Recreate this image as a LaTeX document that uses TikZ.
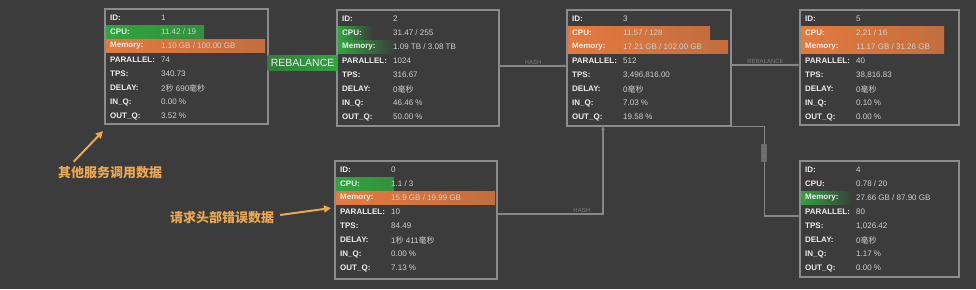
\documentclass[tikz,border=0pt]{standalone}
\usepackage{fontspec}
\setmainfont{Liberation Sans}
\newfontfamily\cjk{Noto Sans CJK SC}
\usetikzlibrary{calc,arrows.meta}
\definecolor{bg}{RGB}{60,60,60}
\definecolor{frame}{RGB}{140,140,140}
\definecolor{lbl}{RGB}{238,238,238}
\definecolor{val}{RGB}{208,208,208}
\definecolor{okgreen}{RGB}{48,165,62}
\definecolor{hot}{RGB}{228,122,62}
\definecolor{note}{RGB}{236,168,80}
\definecolor{wire}{RGB}{135,135,135}
\definecolor{tinytxt}{RGB}{125,125,125}
\newcommand\statrow[4]{%
  \node[lblstyle] (#1l#2) at ($(#1.north west)+(5,{9+14*(#2-1)})$) {#3};
  \node[valstyle] (#1v#2) at ($(#1.north west)+(56,{9+14*(#2-1)})$) {#4};}
\newcommand\hotbar[4]{% box,row,width,colour
  \fill[left color=#4, right color=#4!80!bg]
    ($(#1.north west)+(1.2,{9+14*(#2-1)-6.8})$) rectangle
    ($(#1.north west)+({1.2+#3},{9+14*(#2-1)+6.8})$);}
\newcommand\glowbar[4]{% box,row,width,colour
  \fill[left color=#4, right color=bg]
    ($(#1.north west)+(1.2,{9+14*(#2-1)-6.8})$) rectangle
    ($(#1.north west)+({1.2+#3},{9+14*(#2-1)+6.8})$);}
\newcommand\fillrows[9]{%
  \statrow{#1}{1}{ID:}{#2}\statrow{#1}{2}{CPU:}{#3}\statrow{#1}{3}{Memory:}{#4}%
  \statrow{#1}{4}{PARALLEL:}{#5}\statrow{#1}{5}{TPS:}{#6}\statrow{#1}{6}{DELAY:}{#7}%
  \statrow{#1}{7}{IN\_Q:}{#8}\statrow{#1}{8}{OUT\_Q:}{#9}}
\begin{document}
\begin{tikzpicture}[x=1pt,y=-1pt,
  statbox/.style={draw=frame, line width=1.1pt, anchor=north west, inner sep=0pt,
                  minimum width=161pt, minimum height=115pt},
  lblstyle/.style={anchor=west, inner sep=0pt, text=lbl, font=\bfseries\fontsize{8}{9}\selectfont},
  valstyle/.style={anchor=west, inner sep=0pt, text=val, font=\fontsize{8}{9}\selectfont},
  wire/.style={draw=wire, line width=1.1pt},
  tip/.style={-{Latex[length=3.5pt,width=3.5pt]}},
  tinylbl/.style={text=tinytxt, font=\fontsize{6}{7}\selectfont, inner sep=1pt},
  rebal/.style={left color=okgreen!60!bg, right color=okgreen, text=lbl,
                font=\fontsize{10.5}{12}\selectfont, inner sep=0pt,
                minimum width=70pt, minimum height=15pt},
  notetxt/.style={text=note, font=\cjk\bfseries\fontsize{13}{15}\selectfont, inner sep=1pt},
  notearrow/.style={draw=note, line width=2pt, -{Triangle[length=7pt,width=7pt]}}
]
\fill[bg] (0,0) rectangle (976,289);
\useasboundingbox (0,0) rectangle (976,289);

% boxes (frames only)
\node[statbox, minimum width=162pt, minimum height=114pt] (n1) at (105,9) {};
\node[statbox] (n2) at (337,10) {};
\node[statbox, minimum width=163pt] (n3) at (567,10) {};
\node[statbox, minimum width=158pt, minimum height=114pt] (n5) at (800,10) {};
\node[statbox, minimum width=161pt, minimum height=117pt] (n0) at (335,161) {};
\node[statbox, minimum width=158pt] (n4) at (800,161) {};

% highlight bars
\hotbar{n1}{2}{98}{okgreen}
\hotbar{n1}{3}{159}{hot}
\glowbar{n2}{2}{35}{okgreen}
\glowbar{n2}{3}{58}{okgreen}
\hotbar{n3}{2}{142}{hot}
\hotbar{n3}{3}{160}{hot}
\hotbar{n5}{2}{143}{hot}
\hotbar{n5}{3}{143}{hot}
\hotbar{n0}{2}{58}{okgreen}
\hotbar{n0}{3}{159}{hot}
\glowbar{n4}{3}{52}{okgreen}

% redraw frames on top
\foreach \b in {n1,n2,n3,n5,n0,n4} \draw[draw=frame, line width=1.1pt] (\b.north west) rectangle (\b.south east);

% rows
\fillrows{n1}{1}{11.42 / 19}{1.10 GB / 100.00 GB}{74}{340.73}{2{\cjk 秒} 690{\cjk 毫秒}}{0.00 \%}{3.52 \%}
\fillrows{n2}{2}{31.47 / 255}{1.09 TB / 3.08 TB}{1024}{316.67}{0{\cjk 毫秒}}{46.46 \%}{50.00 \%}
\fillrows{n3}{3}{11.57 / 128}{17.21 GB / 102.00 GB}{512}{3,496,816.00}{0{\cjk 毫秒}}{7.03 \%}{19.58 \%}
\fillrows{n5}{5}{2.21 / 16}{11.17 GB / 31.26 GB}{40}{38,816.83}{0{\cjk 毫秒}}{0.10 \%}{0.00 \%}
\fillrows{n0}{0}{1.1 / 3}{15.9 GB / 19.99 GB}{10}{84.49}{1{\cjk 秒} 411{\cjk 毫秒}}{0.00 \%}{7.13 \%}
\fillrows{n4}{4}{0.78 / 20}{27.66 GB / 87.90 GB}{80}{1,026.42}{0{\cjk 毫秒}}{1.17 \%}{0.00 \%}

% connectors
\draw[wire] ($(n1.north east)+(0,53)$) -- ($(n2.north west)+(0,52)$);
\node[rebal] (r1) at ($(n1.north east)!0.5!(n2.north west)+(0,53)$) {REBALANCE};
\draw[wire, tip] ($(n2.north east)+(0,56)$) -- ($(n3.north west)+(0,56)$)
  node[midway, above, tinylbl] (l23) {HASH};
\draw[wire, tip] ($(n3.north east)+(0,55)$) -- ($(n5.north west)+(0,55)$)
  node[midway, above, tinylbl] (l35) {REBALANCE};
\draw[wire, tip] ($(n0.north east)+(0,53)$) -| ($(n3.south west)+(36,0)$)
  node[pos=0.4, above, tinylbl] (l03) {HASH};
\draw[wire, tip] ($(n3.south east)+(0,0)$) -- ++(33,0) |- ($(n4.north west)+(0,55)$)
  node[pos=0.15, rotate=90, fill=wire!60!bg, tinylbl] (l34) {HASH};

% annotations
\node[notetxt] (t1) at (110,173) {其他服务调用数据};
\node[notetxt] (t2) at (222,218) {请求头部错误数据};
\draw[notearrow] ($(t1.north west)+(17,-4)$) -- ($(n1.south west)+(-2,7)$);
\draw[notearrow] ($(t2.east)+(5,-3)$) -- ($(n0.west)+(-4,-12)$);
\end{tikzpicture}
\end{document}
